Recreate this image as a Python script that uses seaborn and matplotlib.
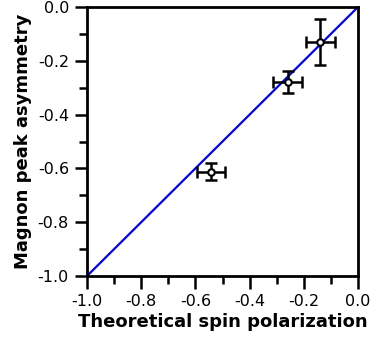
import numpy as np
import pandas as pd
import matplotlib
matplotlib.use("Agg")
import matplotlib.pyplot as plt
import seaborn as sns
from matplotlib.ticker import MultipleLocator

theory = [-0.542, -0.259, -0.139]
asym = [-0.612, -0.279, -0.130]
theory_err = [0.053, 0.054, 0.054]
asym_err = [0.032, 0.042, 0.086]
diag = [-1.0, 0.0]
ticks = [-1.0, -0.8, -0.6, -0.4, -0.2, 0.0]
tick_labels = ["-1.0", "-0.8", "-0.6", "-0.4", "-0.2", "0.0"]

sns.set_style("white")
plt.rcParams['font.family'] = ['DejaVu Sans']
plt.rcParams['text.color'] = 'black'
plt.rcParams['axes.labelcolor'] = 'black'
plt.rcParams['xtick.color'] = 'black'
plt.rcParams['ytick.color'] = 'black'

fig = plt.figure(figsize=(3.75, 3.38), dpi=100)
ax = fig.add_axes([87/375, 1 - 276/338, 271/375, 269/338])

sns.lineplot(x=diag, y=diag, ax=ax, color="#0000ee", linewidth=1.6)
ax.errorbar(theory, asym, xerr=theory_err, yerr=asym_err, fmt="none",
            ecolor="black", elinewidth=1.8, capsize=4, capthick=1.8, zorder=3)
df = pd.DataFrame({"t": theory, "a": asym})
sns.scatterplot(data=df, x="t", y="a", ax=ax, marker="o", s=22,
                facecolor="white", edgecolor="black", linewidth=1.5, zorder=4)

ax.set_xlim(-1.0, 0.0)
ax.set_ylim(-1.0, 0.0)
ax.set_xticks(ticks)
ax.set_xticklabels(tick_labels)
ax.set_yticks(ticks)
ax.set_yticklabels(tick_labels)
ax.xaxis.set_minor_locator(MultipleLocator(0.1))
ax.yaxis.set_minor_locator(MultipleLocator(0.1))
ax.tick_params(which="major", direction="out", length=9, width=1.8,
               labelsize=11.5, bottom=True, left=True, color="black",
               labelcolor="black", pad=4)
ax.tick_params(which="minor", direction="out", length=6, width=1.8,
               bottom=True, left=True, color="black")
for s in ax.spines.values():
    s.set_linewidth(2)
    s.set_color("black")
ax.set_xlabel("Theoretical spin polarization", fontsize=13, fontweight="bold",
              labelpad=3, color="black")
ax.set_ylabel("Magnon peak asymmetry", fontsize=13, fontweight="bold",
              labelpad=4, color="black")
ax.grid(False)

fig.savefig("out.png", dpi=100)
